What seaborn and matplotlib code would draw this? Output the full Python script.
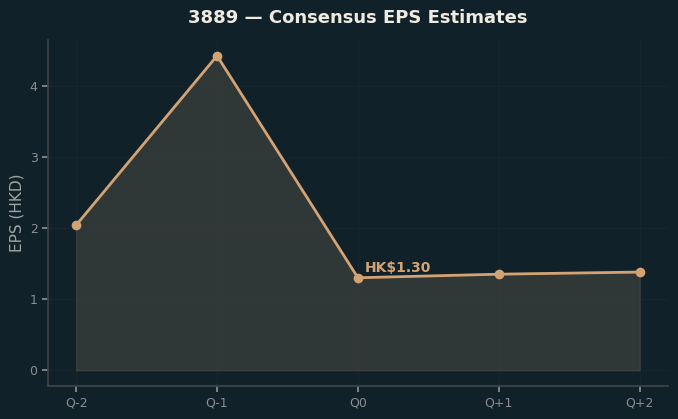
import matplotlib
matplotlib.use("Agg")
import matplotlib.pyplot as plt
import seaborn as sns
import pandas as pd

# EPS consensus data
quarters = ["Q-2", "Q-1", "Q0", "Q+1", "Q+2"]
eps = [2.04, 4.42, 1.30, 1.35, 1.38]
current_label = "HK$1.30"

bg = "#10212a"
accent = "#d4a373"

sns.set_theme(style="dark")
plt.rcParams["font.family"] = ["DejaVu Sans"]

df = pd.DataFrame({"quarter": quarters, "eps": eps})
x = list(range(len(quarters)))

fig = plt.figure(figsize=(6.78, 4.19), dpi=100, facecolor=bg)
ax = fig.add_axes([0.0708, 0.0788, 0.9142, 0.8257])
ax.set_facecolor(bg)

ax.fill_between(x, df["eps"], 0, color="#454640", alpha=0.6, linewidth=1, edgecolor="#4a4a44")
sns.lineplot(x=x, y=df["eps"], ax=ax, color=accent, linewidth=2, marker="o",
             markersize=7, markeredgewidth=0)

ax.annotate(current_label, (2, eps[2]), xytext=(5, 4), textcoords="offset points",
            color=accent, fontsize=10, fontweight="bold")

ax.set_xticks(x)
ax.set_xticklabels(quarters)
ax.set_xlabel("")
ax.set_ylabel("EPS (HKD)", color="#a0a4a6", fontsize=11)
ax.set_title("3889 — Consensus EPS Estimates", color="#f0ebe0", fontsize=13,
             fontweight="bold", pad=12)

ax.grid(True, color="#17262d", linewidth=0.8)
ax.tick_params(colors="#8a8e90", labelsize=9, length=4, left=True, bottom=True)
for side in ["top", "right"]:
    ax.spines[side].set_visible(False)
for side in ["left", "bottom"]:
    ax.spines[side].set_visible(True)
    ax.spines[side].set_color("#3d4444")

fig.savefig("out.png", dpi=100, facecolor=bg)
